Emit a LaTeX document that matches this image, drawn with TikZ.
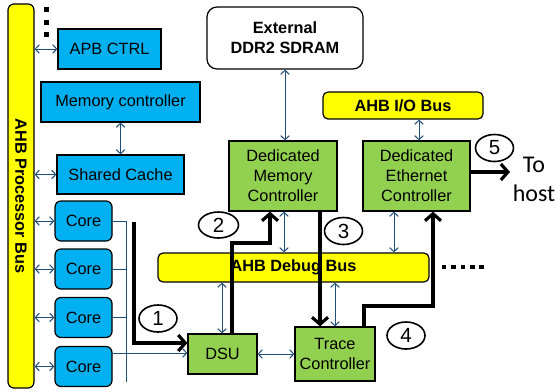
\documentclass[tikz,border=0pt]{standalone}
\usepackage{fontspec}
\setmainfont{Liberation Sans}
\newfontfamily\calfont{Carlito}
\usetikzlibrary{arrows.meta,shapes.geometric}
\definecolor{cyanfill}{HTML}{00B0F0}
\definecolor{gfill}{HTML}{92D050}
\definecolor{yfill}{HTML}{FFFF00}
\definecolor{linkblue}{HTML}{1F4E79}
\begin{document}
\begin{tikzpicture}[x=1pt,y=-1pt,
  every node/.style={font=\fontsize{16.3}{20}\selectfont, inner sep=0pt},
  bluebox/.style={draw=black, line width=1.2pt, fill=cyanfill, align=center},
  corebox/.style={bluebox, rounded corners=6pt, minimum width=57pt, minimum height=40pt},
  grbox/.style={draw=black, line width=1.2pt, fill=gfill, align=center},
  bus/.style={draw=black, line width=1.2pt, fill=yfill, rounded corners=5pt, font=\fontsize{16.3}{20}\selectfont\bfseries},
  link/.style={draw=linkblue, line width=1pt, {Straight Barb[length=4pt,width=8.5pt]}-{Straight Barb[length=4pt,width=8.5pt]}},
  wire/.style={draw=linkblue, line width=1pt},
  flow/.style={draw=black, line width=3.2pt, -{Straight Barb[length=7pt,width=16pt]}},
  num/.style={draw=black, ellipse, line width=1.6pt, fill=white, minimum width=38pt, minimum height=27pt, font=\fontsize{20.5}{20.5}\selectfont},
  dot/.style={fill=black}
]
\useasboundingbox (0,0) rectangle (556,391);
\fill[white] (0,0) rectangle (556,391);

% buses
\node[bus, rotate=-90, minimum width=384pt, minimum height=26pt, rounded corners=6pt] (procbus) at (21,196) {AHB Processor Bus};
\node[bus, minimum width=271pt, minimum height=29pt] (dbgbus) at (293.5,267.5) {AHB Debug Bus};
\node[bus, minimum width=160pt, minimum height=27pt] (iobus) at (403,105.5) {AHB I/O Bus};

% blue boxes
\node[bluebox, minimum width=103pt, minimum height=40pt] (apb) at (109.5,49) {APB CTRL};
\node[bluebox, minimum width=159pt, minimum height=40pt] (memctl) at (120.5,102) {Memory controller};
\node[bluebox, minimum width=127pt, minimum height=39pt] (cache) at (120.5,174.5) {Shared Cache};
\node[corebox] (c1) at (83.5,221) {Core};
\node[corebox] (c2) at (83.5,269) {Core};
\node[corebox] (c3) at (83.5,317.5) {Core};
\node[corebox] (c4) at (83.5,366.5) {Core};

% memory
\node[draw=black, line width=1.2pt, fill=white, rounded corners=10pt, minimum width=156pt, minimum height=62pt, align=center, font=\fontsize{16.3}{20}\selectfont\bfseries] (ddr) at (285,38) {External\\DDR2 SDRAM};

% green boxes
\node[grbox, minimum width=108pt, minimum height=70pt] (dmc) at (283,176) {Dedicated\\Memory\\Controller};
\node[grbox, minimum width=107pt, minimum height=70pt] (eth) at (416.5,176) {Dedicated\\Ethernet\\Controller};
\node[grbox, minimum width=69pt, minimum height=40pt] (dsu) at (222.5,354) {DSU};
\node[grbox, minimum width=80pt, minimum height=54pt] (trace) at (335,354) {Trace\\Controller};

% to host
\node[align=center, font=\calfont\fontsize{24}{29}\selectfont] (host) at (534,179) {To\\host};

% dots
\foreach \yy in {7,20,32} \fill[dot] (44,\yy) rectangle (49,\yy+5);
\foreach \xx in {441.7,451.2,460.7,470,479.3} \fill[dot] (\xx,264.5) rectangle (\xx+4.5,269);

% thin links
\draw[link] (procbus.north |- apb.west) -- (apb.west);
\draw[link] (procbus.north |- cache.west) -- (cache.west);
\foreach \c in {c1,c2,c3,c4} \draw[link] (procbus.north |- \c.west) -- (\c.west);
\draw[link] (memctl.south) -- (memctl.south |- cache.north);
\draw[link] (ddr.south) -- (ddr.south |- dmc.north);
\draw[link] (iobus.south -| 419,0) -- (eth.north -| 419,0);
\draw[link] (dmc.south -| 284,0) -- (dbgbus.north -| 284,0);
\draw[link] (eth.south -| 394,0) -- (dbgbus.north -| 394,0);
\draw[link] (dbgbus.south -| 222,0) -- (dsu.north -| 222,0);
\draw[link] (dbgbus.south -| 335,0) -- (trace.north);
\draw[link] (dsu.east) -- (trace.west |- dsu.east);

% core wires
\coordinate (cb) at (126,0);
\coordinate (cbend) at (126,382);
\foreach \c in {c1,c2,c3} \draw[wire] (\c.east) -- (\c.east -| cb);
\draw[wire] (cb |- c1.east) -- (cbend);
\draw[wire, -{Straight Barb[length=4pt,width=8.5pt]}] (c4.east |- 0,353) -- (dsu.west |- 0,353);

% thick flows
\coordinate (s1) at (134,222);
\coordinate (t5) at (510,172);
\draw[flow] (s1) -- (s1 |- 0,343) -- (dsu.west |- 0,343);
\draw[flow] (dsu.north -| 232,0) -- (232,243) -- (270,243) -- (dmc.south -| 270,0);
\draw[flow] (dmc.south -| 320,0) -- (trace.north -| 320,0);
\draw[flow] (trace.north -| 364,0) -- (364,306) -- (433,306) -- (eth.south -| 433,0);
\draw[flow] (eth.east |- 0,172) -- (t5);

% numbers
\node[num] (n1) at (158,318.5) {1};
\node[num, minimum width=40pt, minimum height=26pt] (n2) at (218.5,225) {2};
\node[num] (n3) at (343.5,231) {3};
\node[num] (n4) at (406,335.5) {4};
\node[num] (n5) at (494.5,148) {5};
\end{tikzpicture}
\end{document}
